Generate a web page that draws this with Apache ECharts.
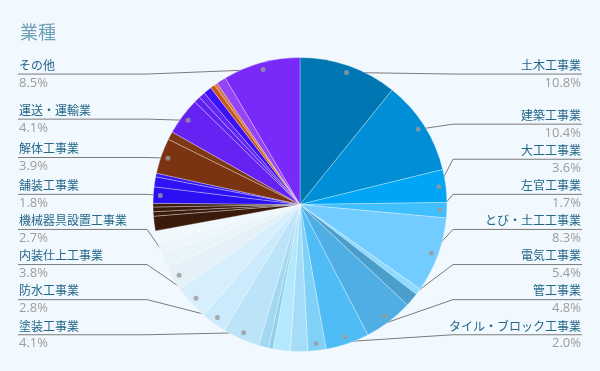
<!DOCTYPE html>
<html>
<head>
<meta charset="utf-8">
<script src="https://cdn.jsdelivr.net/npm/echarts@6/dist/echarts.min.js"></script>
<style>
html,body{margin:0;padding:0;background:#f2f9fe;}
#chart{width:600px;height:371px;}
</style>
</head>
<body>
<div id="chart"></div>
<script>
// ---- data ----
const titleText = '業種';
const names = [
  '土木工事業', '建築工事業', '大工工事業', '左官工事業', 'とび・土工工事業',
  '小分類01', '小分類02',
  '電気工事業', '管工事業', 'タイル・ブロック工事業',
  '小分類03', '小分類04', '小分類05', '小分類06',
  '塗装工事業', '防水工事業', '内装仕上工事業', '機械器具設置工事業',
  '小分類07', '小分類08', '小分類09', '小分類10', '小分類11', '小分類12', '小分類13',
  '舗装工事業', '小分類14', '小分類15',
  '解体工事業', '小分類16',
  '運送・運輸業', '小分類17', '小分類18', '小分類19', '小分類20', '小分類21', '小分類22',
  'その他'
];
const values = [
  10.8, 10.4, 3.6, 1.7, 8.3,
  0.7, 1.5,
  5.4, 4.8, 2.0,
  1.9, 1.9, 0.5, 1.1,
  4.1, 2.8, 3.8, 2.7,
  1.6, 1.3, 1.3, 1.6, 0.5, 0.5, 0.4,
  1.8, 1.1, 0.4,
  3.9, 0.9,
  4.1, 0.7, 0.7, 0.9, 0.5, 0.35, 1.05,
  8.5
];
const colors = [
  '#0077b3', '#008fd6', '#00a6f5', '#40bfff', '#73ccff',
  '#8fdbff', '#4a9ecc',
  '#4faee3', '#4fbcf6', '#80d1f8',
  '#a5ddf9', '#b4e8fd', '#8ecfec', '#a2d8f2',
  '#bce4f9', '#cbebfc', '#d7effc', '#e4f1f8',
  '#e9f4fa', '#edf6fa', '#f1f8fb', '#3a1a0b', '#3d1c0c', '#391a0a', '#3c1b0b',
  '#2a10f2', '#2f14f5', '#3618f7',
  '#7b3312', '#7f3814',
  '#6622f2', '#5e20f0', '#6426f4', '#3a12f7', '#c8561c', '#d07a40', '#9644f7',
  '#7a2af8'
];
const labeled = [
  1, 1, 1, 1, 1,
  0, 0,
  1, 1, 1,
  0, 0, 0, 0,
  1, 1, 1, 1,
  0, 0, 0, 0, 0, 0, 0,
  1, 0, 0,
  1, 0,
  1, 0, 0, 0, 0, 0, 0,
  1
];

// ---- layout constants ----
const CX = 300, CY = 204.5, R = 147, DOT_R = 140, LABEL_R = 142, ELBOW = 153;
const LABEL_H = 35.1, BOUND_TOP = 56.5, BOUND_BOTTOM = 352.3;

const total = values.reduce((a, b) => a + b, 0);
const pieData = names.map((n, i) => {
  const item = { name: n, value: values[i], itemStyle: { color: colors[i] } };
  if (!labeled[i]) {
    item.label = { show: false };
    item.labelLine = { show: false };
  }
  return item;
});

// dots at the middle of each labelled slice (polar coords: [radius, angle-in-value]),
// and a simple stacking of label rows per side (derived from the slice mid angles)
const dotData = [];
const labelY = {};
const sides = { left: [], right: [] };
let acc = 0;
values.forEach((v, i) => {
  const mid = acc + v / 2;
  acc += v;
  if (!labeled[i]) return;
  dotData.push([1, mid]);
  const theta = mid / total * Math.PI * 2;
  const natural = CY - LABEL_R * Math.cos(theta);
  (Math.sin(theta) < 0 ? sides.left : sides.right).push({ i: i, y: natural });
});
Object.keys(sides).forEach(k => {
  const list = sides[k].sort((a, b) => a.y - b.y);
  const lo = BOUND_TOP + LABEL_H / 2, hi = BOUND_BOTTOM - LABEL_H / 2;
  for (let j = 0; j < list.length; j++) {
    let y = Math.max(list[j].y, lo);
    if (j > 0) y = Math.max(y, list[j - 1].y + LABEL_H);
    list[j].y = y;
  }
  for (let j = list.length - 1; j >= 0; j--) {
    let y = Math.min(list[j].y, hi);
    if (j < list.length - 1) y = Math.min(y, list[j + 1].y - LABEL_H);
    list[j].y = y;
  }
  list.forEach(o => { labelY[o.i] = o.y; });
});

const chart = echarts.init(document.getElementById('chart'), null, { renderer: 'canvas' });
chart.setOption({
  backgroundColor: '#f2f9fe',
  animation: false,
  title: {
    text: titleText,
    left: 15,
    top: 18,
    textStyle: { fontSize: 18, fontWeight: 'normal', color: '#6d9fb5', fontFamily: 'Noto Sans CJK JP' }
  },
  polar: { center: [CX, CY], radius: DOT_R },
  angleAxis: { type: 'value', min: 0, max: total, startAngle: 90, clockwise: true, show: false },
  radiusAxis: { type: 'value', min: 0, max: 1, show: false },
  series: [
    {
      type: 'pie',
      top: 56,
      bottom: 18,
      left: 0,
      right: 0,
      center: ['50%', '50%'],
      radius: R,
      startAngle: 90,
      clockwise: true,
      avoidLabelOverlap: true,
      data: pieData,
      itemStyle: { borderColor: 'rgba(255,255,255,0.3)', borderWidth: 1 },
      emphasis: { disabled: true },
      label: {
        show: true,
        alignTo: 'edge',
        edgeDistance: 19,
        minMargin: 0,
        formatter: p => '{n|' + p.name + '}\n{p|' + p.value.toFixed(1) + '%}',
        rich: {
          n: { fontSize: 12, color: '#24678a', lineHeight: 17.6, fontFamily: 'Noto Sans CJK JP' },
          p: { fontSize: 13, color: '#9c9c9c', lineHeight: 17.6, fontFamily: 'Open Sans' }
        }
      },
      labelLine: { show: true, length: 3, length2: 0, lineStyle: { color: '#7b7b7b', width: 1 } },
      labelLayout: function (params) {
        const pts = params.labelLinePoints;
        if (!pts) return;
        const rect = params.labelRect;
        const isLeft = rect.x + rect.width / 2 < CX;
        const y = labelY[params.dataIndex] != null ? labelY[params.dataIndex] : rect.y + rect.height / 2;
        const dx = pts[0][0] - CX, dy = pts[0][1] - CY;
        const d = Math.sqrt(dx * dx + dy * dy) || 1;
        const k = DOT_R / d;
        return {
          y: y,
          labelLinePoints: [
            [CX + dx * k, CY + dy * k],
            [CX + (isLeft ? -ELBOW : ELBOW), y],
            [isLeft ? rect.x - 1 : rect.x + rect.width + 1, y]
          ]
        };
      }
    },
    {
      type: 'scatter',
      coordinateSystem: 'polar',
      data: dotData,
      symbolSize: 5,
      itemStyle: { color: '#9a9a9a' },
      silent: true,
      z: 5
    }
  ]
});
</script>
</body>
</html>
